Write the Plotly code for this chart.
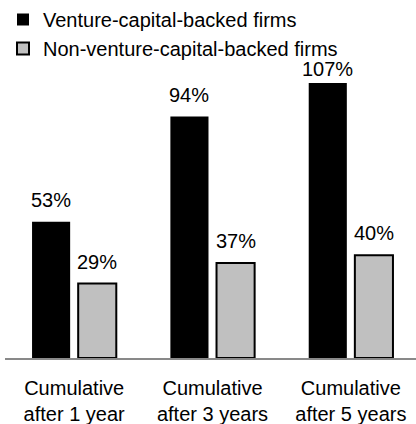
import plotly.graph_objects as go

# Cumulative growth by firm type
categories = ["Cumulative<br>after 1 year", "Cumulative<br>after 3 years", "Cumulative<br>after 5 years"]
vc_backed = [53, 94, 107]
non_vc_backed = [29, 37, 40]
series_names = ["Venture-capital-backed firms", "Non-venture-capital-backed firms"]

FONT = "Liberation Sans, Arial, sans-serif"
FS = 20
BARGAP = 0.333
GROUPGAP = 0.174
Y_MAX = 116
W, H = 416, 424
M = dict(l=5, r=0, t=60, b=66)
plot_w = W - M["l"] - M["r"]
plot_h = H - M["t"] - M["b"]

fig = go.Figure()
fig.add_trace(go.Bar(
    x=categories, y=vc_backed, name=series_names[0],
    marker=dict(color="#000000", line=dict(width=0)),
))
fig.add_trace(go.Bar(
    x=categories, y=non_vc_backed, name=series_names[1],
    marker=dict(color="#c0c0c0", line=dict(color="#000000", width=2)),
))

# value labels above each bar, positioned from the grouped-bar layout;
# labels near the top of the plot sit a little closer to their bar
slot = (1 - BARGAP) / 2
for i, (a, b) in enumerate(zip(vc_backed, non_vc_backed)):
    for val, off in ((a, -slot / 2), (b, slot / 2)):
        fig.add_annotation(
            x=i + off, y=val, xref="x", yref="y", text=f"{val}%",
            showarrow=False, yanchor="bottom",
            yshift=9 if val < 100 else 1,
            font=dict(family=FONT, size=FS, color="#000000"),
        )

fig.update_layout(
    width=W, height=H,
    margin=M,
    paper_bgcolor="#ffffff", plot_bgcolor="#ffffff",
    barmode="group", bargap=BARGAP, bargroupgap=GROUPGAP,
    font=dict(family=FONT, size=FS, color="#000000"),
    showlegend=True,
    legend=dict(
        x=-2 / plot_w, y=1 + M["t"] / plot_h,
        xanchor="left", yanchor="top",
        font=dict(family=FONT, size=FS, color="#000000"),
        bgcolor="rgba(0,0,0,0)", tracegroupgap=0, itemwidth=30,
    ),
    xaxis=dict(
        type="category", range=[-0.5, 2.471], tickangle=0,
        showline=True, linecolor="#898989", linewidth=1.5,
        ticks="", showgrid=False, zeroline=False, automargin=False,
        ticklabelstandoff=11,
        tickfont=dict(family=FONT, size=FS, color="#000000"),
    ),
    yaxis=dict(
        range=[0, Y_MAX], visible=False, showgrid=False, zeroline=False,
    ),
)

fig.write_html("out.html")
